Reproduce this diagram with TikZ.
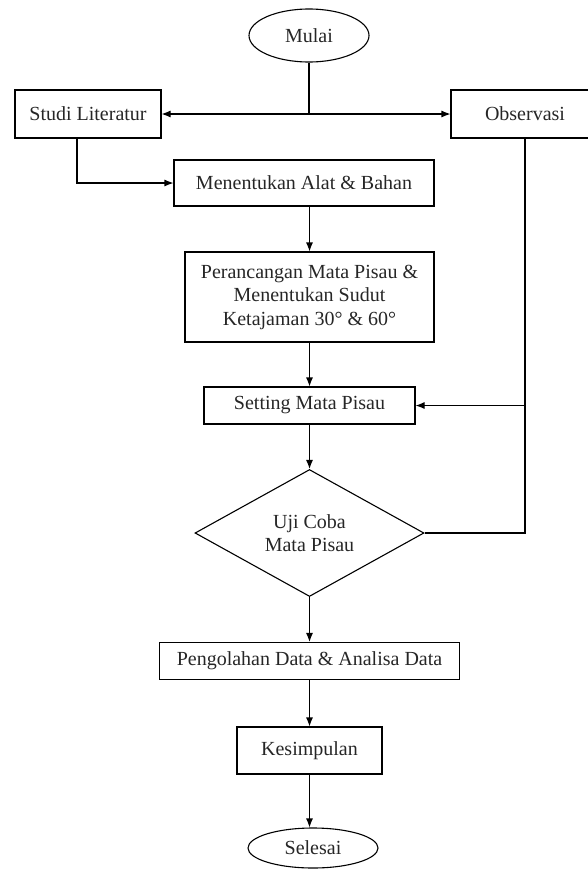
\documentclass[tikz,border=0pt]{standalone}
\usepackage{fontspec}
\setmainfont{Liberation Serif}
\usetikzlibrary{arrows.meta,shapes.geometric,calc}

\begin{document}
\begin{tikzpicture}[x=1pt,y=-1pt,>={Latex[length=9pt,width=7pt]},
  every node/.style={font=\fontsize{20}{23.5}\selectfont,text=black!85},
  box/.style={draw,line width=1.1pt,rectangle,inner sep=0pt,align=center},
  ujung/.style={draw,line width=1.1pt,ellipse,inner sep=0pt},
  line/.style={line width=1.1pt}]
  \useasboundingbox (0,0) rectangle (588,870);
  \clip (0,0) rectangle (588,870);
  \node[ujung,minimum width=120pt,minimum height=53pt] (mulai) at (309,35.5) {Mulai};
  \node[box,minimum width=146pt,minimum height=48pt] (studi) at (88,114) {Studi Literatur};
  \node[box,minimum width=148pt,minimum height=48pt] (obs) at (525,114) {Observasi};
  \node[box,minimum width=260pt,minimum height=46pt] (alat) at (304,183) {Menentukan Alat \& Bahan};
  \node[box,minimum width=249pt,minimum height=90pt] (rancang) at (309.5,297)
    {Perancangan Mata Pisau \&\\Menentukan Sudut\\Ketajaman 30° \& 60°};
  \node[box,minimum width=211pt,minimum height=37pt] (setting) at (309.5,405.5) {Setting Mata Pisau};
  \node[draw,line width=1.1pt,diamond,inner sep=0pt,minimum width=229pt,minimum height=122pt,
        align=center] (uji) at (309.5,533) {Uji Coba\\Mata Pisau};
  \node[box,minimum width=300pt,minimum height=37pt] (olah) at (309.5,661) {Pengolahan Data \& Analisa Data};
  \node[box,minimum width=145pt,minimum height=47pt] (simpul) at (309.5,750.5) {Kesimpulan};
  \node[ujung,minimum width=130pt,minimum height=40pt] (selesai) at (313,848) {Selesai};

  % percabangan dari mulai
  \coordinate (cabang) at (mulai.south |- studi.east);
  \draw[line width=2.2pt] (mulai.south) -- (cabang);
  \draw[line,<->] (studi.east) -- (obs.west);
  \draw[line,->] ($(studi.south)+(-11,0)$) |- (alat.west);
  \draw[line,->] (rancang.north |- alat.south) -- (rancang.north);
  \draw[line,->] (rancang.south) -- (setting.north);
  \draw[line,->] (setting.south) -- (uji.north);
  \draw[line,->] (uji.south) -- (olah.north);
  \draw[line,->] (olah.south) -- (simpul.north);
  \draw[line,->] (simpul.south) -- (simpul.south |- selesai.north);
  % umpan balik observasi / uji coba
  \draw[line] (obs.south) |- (uji.east);
  \coordinate (balik) at (obs.south |- setting.east);
  \draw[line,->] (balik) -- (setting.east);
\end{tikzpicture}
\end{document}
